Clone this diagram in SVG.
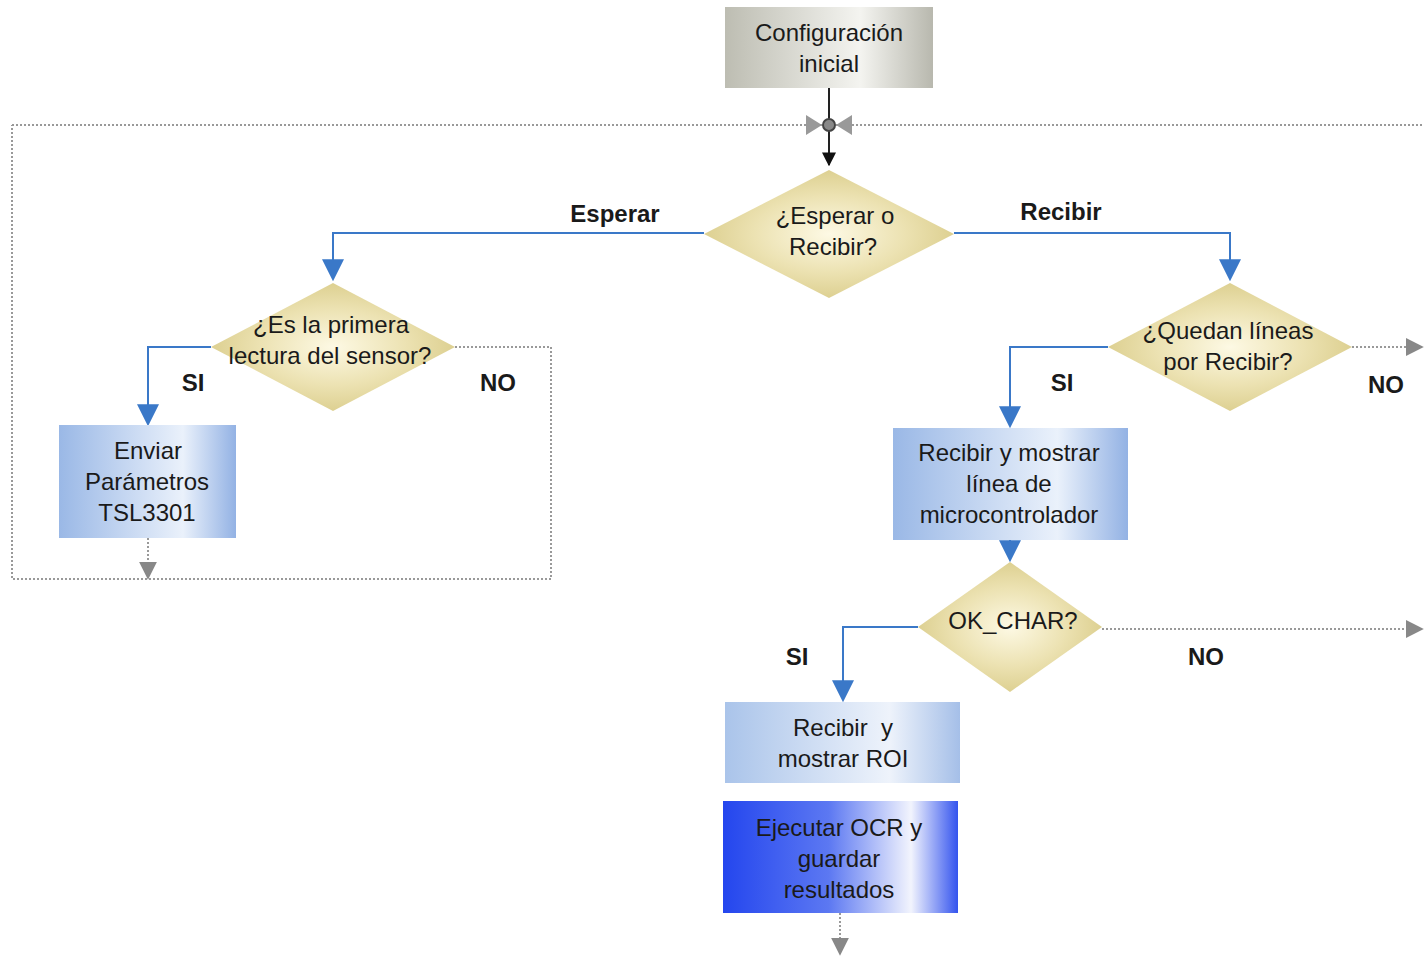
<svg xmlns="http://www.w3.org/2000/svg" width="1424" height="957" viewBox="0 0 1424 957">
<defs>
<linearGradient id="gGray" x1="0" y1="0" x2="1" y2="0">
<stop offset="0" stop-color="#bdbdb2"/><stop offset="0.65" stop-color="#f4f4f0"/><stop offset="1" stop-color="#b8b8ae"/>
</linearGradient>
<linearGradient id="gBlue" x1="0" y1="0" x2="1" y2="0">
<stop offset="0" stop-color="#9ab8e6"/><stop offset="0.7" stop-color="#eaf1fb"/><stop offset="1" stop-color="#93b2e4"/>
</linearGradient>
<linearGradient id="gBlue2" x1="0" y1="0" x2="1" y2="0">
<stop offset="0" stop-color="#aac4ea"/><stop offset="0.7" stop-color="#eef3fb"/><stop offset="1" stop-color="#a5bfe8"/>
</linearGradient>
<linearGradient id="gDeep" x1="0" y1="0" x2="1" y2="0">
<stop offset="0" stop-color="#2446ee"/><stop offset="0.45" stop-color="#5c78f2"/><stop offset="0.8" stop-color="#f2f4fd"/><stop offset="1" stop-color="#3454ee"/>
</linearGradient>
<radialGradient id="gDia" cx="0.5" cy="0.5" r="0.5">
<stop offset="0" stop-color="#fdf9e4"/><stop offset="0.6" stop-color="#ece2b2"/><stop offset="1" stop-color="#ddd091"/>
</radialGradient>
<marker id="aBlue" viewBox="0 0 10 10" refX="9" refY="5" markerWidth="22" markerHeight="22" markerUnits="userSpaceOnUse" orient="auto">
<path d="M0,0 L10,5 L0,10 Z" fill="#3a78c8"/>
</marker>
<marker id="aGray" viewBox="0 0 10 10" refX="9" refY="5" markerWidth="18" markerHeight="18" markerUnits="userSpaceOnUse" orient="auto">
<path d="M0,0 L10,5 L0,10 Z" fill="#888"/>
</marker>
<marker id="aBlack" viewBox="0 0 10 10" refX="9" refY="5" markerWidth="14" markerHeight="14" markerUnits="userSpaceOnUse" orient="auto">
<path d="M0,0 L10,5 L0,10 Z" fill="#111"/>
</marker>
</defs>
<style>
.t{font-family:"Liberation Sans",Arial,sans-serif;font-size:24px;fill:#1a1a1a;text-anchor:middle}
.lb{font-family:"Liberation Sans",Arial,sans-serif;font-size:24px;font-weight:bold;fill:#1a1a1a;text-anchor:middle}
.blue{fill:none;stroke:#3a78c8;stroke-width:2}
.dot{fill:none;stroke:#999;stroke-width:2;stroke-dasharray:2,2}
</style>
<rect width="1424" height="957" fill="#fff"/>
<g id="connectors">
<polyline class="dot" points="12,125 1424,125"/>
<polyline class="dot" points="455,347 551,347 551,579 12,579 12,125"/>
<line class="dot" x1="148" y1="538" x2="148" y2="578" marker-end="url(#aGray)"/>
<line class="dot" x1="1352" y1="347" x2="1422" y2="347" marker-end="url(#aGray)"/>
<line class="dot" x1="1102" y1="629" x2="1422" y2="629" marker-end="url(#aGray)"/>
<line class="dot" x1="840" y1="913" x2="840" y2="954" marker-end="url(#aGray)"/>
<line x1="829" y1="88" x2="829" y2="165" stroke="#222" stroke-width="2" marker-end="url(#aBlack)"/>
<path d="M806,115 L822,125 L806,135 Z M852,115 L836,125 L852,135 Z" fill="#999"/>
<circle cx="829" cy="125" r="6" fill="#888" stroke="#444" stroke-width="2"/>
<polyline class="blue" points="704,233 333,233 333,279" marker-end="url(#aBlue)"/>
<polyline class="blue" points="954,233 1230,233 1230,279" marker-end="url(#aBlue)"/>
<polyline class="blue" points="211,347 148,347 148,424" marker-end="url(#aBlue)"/>
<polyline class="blue" points="1108,347 1010,347 1010,426" marker-end="url(#aBlue)"/>
<line class="blue" x1="1010" y1="540" x2="1010" y2="560" marker-end="url(#aBlue)"/>
<polyline class="blue" points="918,627 843,627 843,700" marker-end="url(#aBlue)"/>
<text class="lb" x="615" y="222">Esperar</text>
<text class="lb" x="1061" y="220">Recibir</text>
<text class="lb" x="193" y="391">SI</text>
<text class="lb" x="498" y="391">NO</text>
<text class="lb" x="1062" y="391">SI</text>
<text class="lb" x="1386" y="393">NO</text>
<text class="lb" x="797" y="665">SI</text>
<text class="lb" x="1206" y="665">NO</text>
</g>
<g id="n_config">
<rect x="725" y="7" width="208" height="81" fill="url(#gGray)"/>
<text class="t" x="829" y="41">Configuración</text>
<text class="t" x="829" y="72">inicial</text>
</g>
<g id="n_esperar">
<polygon points="829,170 954,234 829,298 704,234" fill="url(#gDia)"/>
<text class="t" x="835" y="224">¿Esperar o</text>
<text class="t" x="833" y="255">Recibir?</text>
</g>
<g id="n_primera">
<polygon points="333,283 455,347 333,411 211,347" fill="url(#gDia)"/>
<text class="t" x="331" y="333">¿Es la primera</text>
<text class="t" x="330" y="364">lectura del sensor?</text>
</g>
<g id="n_enviar">
<rect x="59" y="425" width="177" height="113" fill="url(#gBlue)"/>
<text class="t" x="148" y="459">Enviar</text>
<text class="t" x="147" y="490">Parámetros</text>
<text class="t" x="147" y="521">TSL3301</text>
</g>
<g id="n_quedan">
<polygon points="1230,283 1352,347 1230,411 1108,347" fill="url(#gDia)"/>
<text class="t" x="1228" y="339">¿Quedan líneas</text>
<text class="t" x="1228" y="370">por Recibir?</text>
</g>
<g id="n_linea">
<rect x="893" y="428" width="235" height="112" fill="url(#gBlue)"/>
<text class="t" x="1009" y="461">Recibir y mostrar</text>
<text class="t" x="1009" y="492">línea de</text>
<text class="t" x="1009" y="523">microcontrolador</text>
</g>
<g id="n_okchar">
<polygon points="1010,562 1102,627 1010,692 918,627" fill="url(#gDia)"/>
<text class="t" x="1013" y="629">OK_CHAR?</text>
</g>
<g id="n_roi">
<rect x="725" y="702" width="235" height="81" fill="url(#gBlue2)"/>
<text class="t" x="843" y="736" xml:space="preserve">Recibir  y</text>
<text class="t" x="843" y="767">mostrar ROI</text>
</g>
<g id="n_ocr">
<rect x="723" y="801" width="235" height="112" fill="url(#gDeep)"/>
<text class="t" x="839" y="836">Ejecutar OCR y</text>
<text class="t" x="839" y="867">guardar</text>
<text class="t" x="839" y="898">resultados</text>
</g>
</svg>
